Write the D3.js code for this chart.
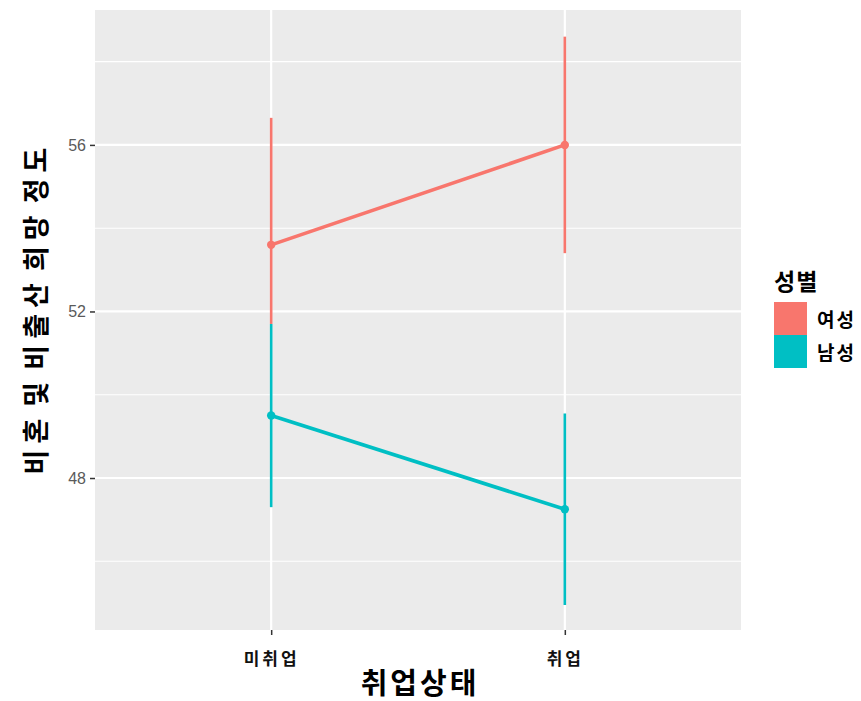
<!DOCTYPE html>
<html>
<head>
<meta charset="utf-8">
<script src="https://cdn.jsdelivr.net/npm/d3@7"></script>
<style>
  body { margin: 0; background: #fff; }
  text { font-family: "Noto Sans CJK KR", "Noto Sans", sans-serif; }
</style>
</head>
<body>
<div id="plot-area"></div>
<script>
// Pointrange plot: childbirth hope by employment status and gender

const statusLabels = ["미취업", "취업"];
const genderLabels = ["여성", "남성"];
const genderColors = ["#F8766D", "#00BFC4"];

// mean, lower, upper per gender, in statusLabels order
const femaleMean = [53.6, 56.0];
const femaleLow = [51.7, 53.4];
const femaleHigh = [56.65, 58.6];
const maleMean = [49.5, 47.25];
const maleLow = [47.3, 44.95];
const maleHigh = [51.7, 49.55];

const yTicks = [48, 52, 56];
const yMinorTicks = [46, 50, 54, 58];

const svg = d3.select("#plot-area").
append("svg").
attr("width", 861).
attr("height", 701);

const pL = 95, pR = 741, pT = 10, pB = 630; // panel edges

const xScale = d3.scalePoint().
domain(statusLabels).
range([pL, pR]).
padding(0.6);

const yScale = d3.scaleLinear().
domain([44.35, 59.24]).
range([pB, pT]);

const colorScale = d3.scaleOrdinal().
domain(genderLabels).
range(genderColors);

const series = [
  { gender: genderLabels[0], mean: femaleMean, low: femaleLow, high: femaleHigh },
  { gender: genderLabels[1], mean: maleMean, low: maleLow, high: maleHigh }];

// Panel background
svg.append("rect").
attr("x", pL).
attr("y", pT).
attr("width", pR - pL).
attr("height", pB - pT).
attr("fill", "#EBEBEB");

// Grid lines
svg.selectAll(".minor").
data(yMinorTicks).
join("line").
attr("class", "minor").
attr("x1", pL).
attr("x2", pR).
attr("y1", d => yScale(d)).
attr("y2", d => yScale(d)).
attr("stroke", "#fff").
attr("stroke-width", 1.1);

svg.selectAll(".major").
data(yTicks).
join("line").
attr("class", "major").
attr("x1", pL).
attr("x2", pR).
attr("y1", d => yScale(d)).
attr("y2", d => yScale(d)).
attr("stroke", "#fff").
attr("stroke-width", 2.2);

svg.selectAll(".vmajor").
data(statusLabels).
join("line").
attr("class", "vmajor").
attr("x1", d => xScale(d)).
attr("x2", d => xScale(d)).
attr("y1", pT).
attr("y2", pB).
attr("stroke", "#fff").
attr("stroke-width", 2.2);

// Axes
const yAxis = d3.axisLeft(yScale).
tickValues(yTicks).
tickSize(5).
tickPadding(4);

const yG = svg.append("g").
attr("transform", `translate(${pL} 0)`).
call(yAxis);
yG.select(".domain").remove();
yG.selectAll(".tick line").attr("stroke", "#333").attr("stroke-width", 1.5);
yG.selectAll(".tick text").
attr("fill", "#5A5A5A").
style("font-family", "'Liberation Sans', Arial, sans-serif").
style("font-size", "16px");

const xAxis = d3.axisBottom(xScale).
tickSize(5).
tickPadding(18);

const xG = svg.append("g").
attr("transform", `translate(0 ${pB})`).
call(xAxis);
xG.select(".domain").remove();
xG.selectAll(".tick line").attr("stroke", "#333").attr("stroke-width", 1.5);
xG.selectAll(".tick text").
attr("fill", "#111").
style("font-size", "17px").
style("font-weight", "bold").
style("letter-spacing", "3px");

// Error bars
series.forEach(s => {
  svg.append("g").
  selectAll("line").
  data(statusLabels).
  join("line").
  attr("x1", d => xScale(d)).
  attr("x2", d => xScale(d)).
  attr("y1", (d, i) => yScale(s.low[i])).
  attr("y2", (d, i) => yScale(s.high[i])).
  attr("stroke", colorScale(s.gender)).
  attr("stroke-width", 2.6);
});

// Lines and points
const line = d3.line().
x(d => xScale(d.status)).
y(d => yScale(d.value));

series.forEach(s => {
  const pts = statusLabels.map((st, i) => ({ status: st, value: s.mean[i] }));
  svg.append("path").
  datum(pts).
  attr("d", line).
  attr("fill", "none").
  attr("stroke", colorScale(s.gender)).
  attr("stroke-width", 3.6);

  svg.append("g").
  selectAll("circle").
  data(pts).
  join("circle").
  attr("cx", d => xScale(d.status)).
  attr("cy", d => yScale(d.value)).
  attr("r", 4.2).
  attr("fill", colorScale(s.gender));
});

// Axis titles
svg.append("text").
text("취업상태").
attr("x", (pL + pR) / 2 + 2).
attr("y", 694).
attr("text-anchor", "middle").
attr("fill", "#000").
style("font-size", "29px").
style("font-weight", "bold").
style("letter-spacing", "3px");

svg.append("text").
text("비혼 및 비출산 희망 정도").
attr("transform", `translate(46 ${(pT + pB) / 2 - 12}) rotate(-90)`).
attr("text-anchor", "middle").
attr("fill", "#000").
style("font-size", "27px").
style("font-weight", "bold").
style("letter-spacing", "6px").
style("word-spacing", "-6px");

// Legend
const legend = svg.append("g").
attr("transform", "translate(774 265)");

legend.append("text").
text("성별").
attr("x", 0).
attr("y", 25).
attr("fill", "#000").
style("font-size", "23px").
style("font-weight", "bold").
style("letter-spacing", "1px");

legend.selectAll("rect").
data(genderLabels).
join("rect").
attr("x", 0).
attr("y", (d, i) => 37 + i * 33).
attr("width", 33).
attr("height", 33).
attr("fill", d => colorScale(d));

legend.selectAll(".lab").
data(genderLabels).
join("text").
attr("class", "lab").
text(d => d).
attr("x", 43).
attr("y", (d, i) => 62 + i * 33).
attr("fill", "#000").
style("font-size", "19px").
style("font-weight", "bold").
style("letter-spacing", "2px");
</script>
</body>
</html>
